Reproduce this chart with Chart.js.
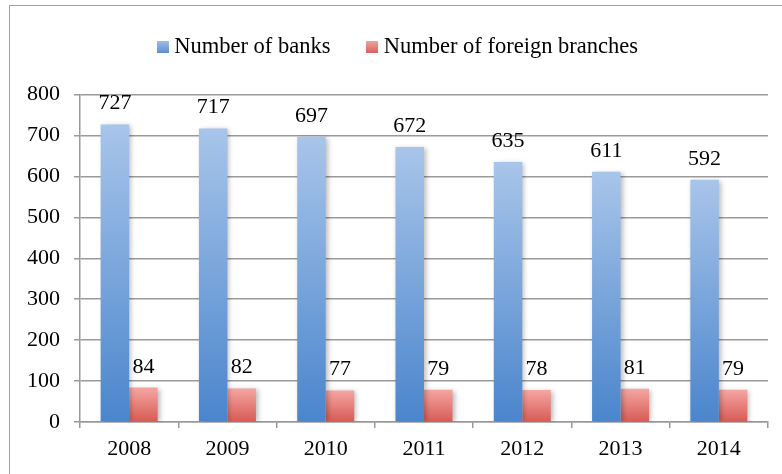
<!DOCTYPE html>
<html>
<head>
<meta charset="utf-8">
<script src="https://cdn.jsdelivr.net/npm/chart.js@4.4.1/dist/chart.umd.min.js"></script>
<style>
  html, body { margin: 0; padding: 0; background: #fff; overflow: hidden; }
  #frame { position: absolute; left: 9px; top: 5px; width: 820px; height: 520px; border: 1px solid #a3a3a3; }
  #wrap { position: absolute; left: 0; top: 0; width: 782px; height: 474px; }
</style>
</head>
<body>
<div id="frame"></div>
<div id="wrap"><canvas id="bank-chart"></canvas></div>
<script>
// banks vs foreign branches, 2008-2014
const years = ['2008', '2009', '2010', '2011', '2012', '2013', '2014'];
const banks = [727, 717, 697, 672, 635, 611, 592];
const foreignBranches = [84, 82, 77, 79, 78, 81, 79];
const yTicks = [0, 100, 200, 300, 400, 500, 600, 700, 800];

const FONT = { family: '"Liberation Serif", "Times New Roman", serif', size: 22 };
const BLUE = ['#a8c5ea', '#4a85cc'];
const RED = ['#f5a6a3', '#d75a53'];

// vertical gradient per bar, from its top down to the baseline
const barGradient = (top, bottom) => ctx => {
  const chart = ctx.chart;
  const y = chart.scales && chart.scales.y;
  if (!chart.chartArea || !y || ctx.raw === undefined) return bottom;
  const g = chart.ctx.createLinearGradient(0, y.getPixelForValue(ctx.raw), 0, y.getPixelForValue(0));
  g.addColorStop(0, top);
  g.addColorStop(1, bottom);
  return g;
};

// small gradient square used as legend marker
function legendSwatch(cols) {
  const cv = document.createElement('canvas');
  cv.width = 12;
  cv.height = 12;
  const c = cv.getContext('2d');
  const g = c.createLinearGradient(0, 0, 0, 12);
  g.addColorStop(0, cols[0]);
  g.addColorStop(1, cols[1]);
  c.fillStyle = g;
  c.fillRect(0, 0, 12, 12);
  return cv;
}
const swatches = [legendSwatch(['#9dbde6', '#5b8fce']), legendSwatch(['#f1a09d', '#d8625c'])];

// soft drop shadow under the bars
const barShadow = {
  id: 'barShadow',
  beforeDatasetsDraw(chart) {
    const c = chart.ctx;
    c.save();
    c.shadowColor = 'rgba(0,0,0,0.28)';
    c.shadowBlur = 5;
    c.shadowOffsetX = 2;
    c.shadowOffsetY = 1;
  },
  afterDatasetsDraw(chart) {
    chart.ctx.restore();
  }
};

// value above each bar
const valueLabels = {
  id: 'valueLabels',
  afterDatasetsDraw(chart) {
    const c = chart.ctx;
    c.save();
    c.font = `${FONT.size}px ${FONT.family}`;
    c.fillStyle = '#000';
    c.textAlign = 'center';
    c.textBaseline = 'alphabetic';
    chart.data.datasets.forEach((ds, i) => {
      chart.getDatasetMeta(i).data.forEach((bar, j) => {
        c.fillText(String(ds.data[j]), bar.x, bar.y - 15);
      });
    });
    c.restore();
  }
};

// legend spacing: room below it, nudged right and up
const legendPlace = {
  id: 'legendPlace',
  beforeInit(chart) {
    const fit = chart.legend.fit;
    chart.legend.fit = function () {
      fit.call(this);
      this.height += 21;
    };
  },
  afterLayout(chart) {
    const lg = chart.legend;
    lg.left += 16;
    lg.right += 16;
    lg.top -= 5;
    lg.bottom -= 5;
  }
};

new Chart(document.getElementById('bank-chart'), {
  type: 'bar',
  data: {
    labels: years,
    datasets: [{
      label: 'Number of banks',
      data: banks,
      backgroundColor: barGradient(BLUE[0], BLUE[1]),
      categoryPercentage: 0.58,
      barPercentage: 1.0
    }, {
      label: 'Number of foreign branches',
      data: foreignBranches,
      backgroundColor: barGradient(RED[0], RED[1]),
      categoryPercentage: 0.58,
      barPercentage: 1.0
    }]
  },
  options: {
    responsive: true,
    maintainAspectRatio: false,
    animation: false,
    layout: { padding: { left: 0, right: 14, top: 0, bottom: 0 } },
    plugins: {
      tooltip: { enabled: false },
      legend: {
        position: 'top',
        labels: {
          font: { family: FONT.family, size: 22.5 },
          color: '#000',
          usePointStyle: true,
          pointStyleWidth: 1,
          boxHeight: 12,
          padding: 41,
          generateLabels(chart) {
            return chart.data.datasets.map((ds, i) => ({
              text: ds.label,
              pointStyle: swatches[i],
              fillStyle: BLUE[0],
              lineWidth: 0,
              datasetIndex: i
            }));
          }
        }
      }
    },
    scales: {
      x: {
        grid: { drawOnChartArea: false, offset: true, tickLength: 6, tickColor: '#999', lineWidth: 1.5 },
        border: { color: '#999', width: 1.5 },
        ticks: { font: FONT, color: '#000', padding: 8 },
        afterFit(scale) { scale.height = 52; }
      },
      y: {
        min: 0,
        max: 800,
        afterBuildTicks(scale) { scale.ticks = yTicks.map(v => ({ value: v })); },
        grid: { color: '#9a9a9a', lineWidth: 1.5, tickLength: 6, tickColor: '#9a9a9a' },
        border: { color: '#9a9a9a', width: 1.5 },
        ticks: { font: FONT, color: '#000', padding: 14 },
        afterFit(scale) { scale.width = 80; }
      }
    }
  },
  plugins: [legendPlace, barShadow, valueLabels]
});
</script>
</body>
</html>
